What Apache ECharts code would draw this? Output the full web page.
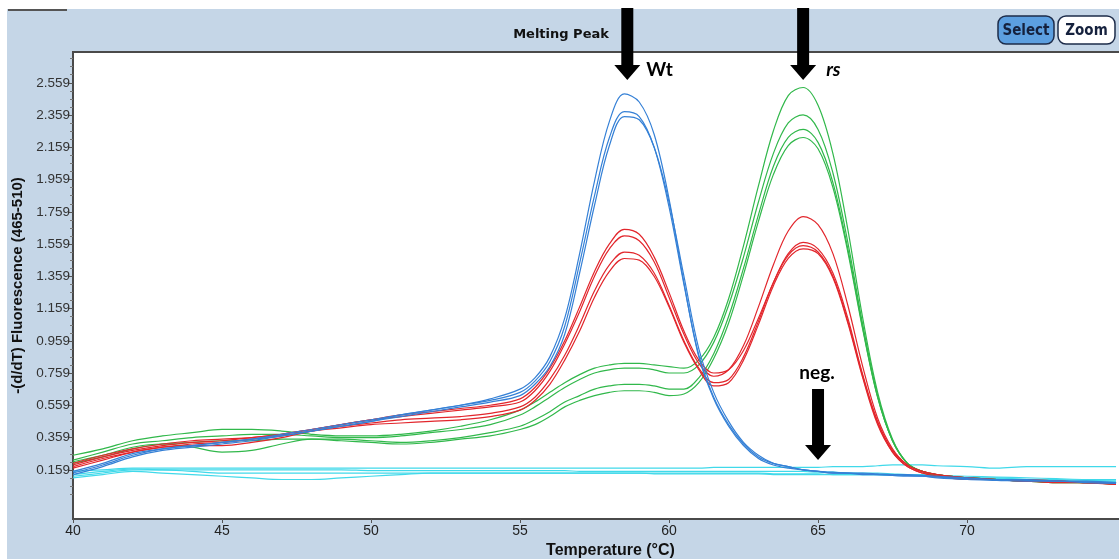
<!DOCTYPE html>
<html>
<head>
<meta charset="utf-8">
<script src="https://cdn.jsdelivr.net/npm/echarts@6/dist/echarts.min.js"></script>
<style>
html, body { margin: 0; padding: 0; background: #ffffff; }
#chart { width: 1119px; height: 559px; }
</style>
</head>
<body>
<div id="chart"></div>
<script>
// temperature grid (°C) shared by every curve
const temps = [40,41,42,43,44,45,46,47,48,49,50,51,52,53,54,55,
  55.5,56,56.5,57,57.5,58,58.5,59,59.5,60,60.5,61,61.5,62,62.5,63,63.5,64,64.5,65,65.5,66,66.5,67,67.5,68,68.5,
  69,70,71,72,73,74,75];

// Wt (blue)
const blue1 = [0.15,0.20,0.26,0.29,0.31,0.33,0.35,0.37,0.40,0.43,0.46,0.50,0.53,0.56,0.60,0.66,
  0.73,0.86,1.10,1.50,1.95,2.32,2.49,2.44,2.24,1.84,1.32,0.86,0.60,0.43,0.31,0.23,0.19,0.17,0.16,0.15,0.145,0.14,0.14,0.135,0.13,0.13,0.125,
  0.12,0.11,0.10,0.10,0.09,0.09,0.08];
const blue2 = [0.14,0.19,0.25,0.29,0.31,0.33,0.35,0.38,0.41,0.44,0.47,0.50,0.53,0.56,0.59,0.64,
  0.71,0.83,1.05,1.44,1.86,2.22,2.38,2.35,2.16,1.79,1.31,0.87,0.61,0.44,0.32,0.24,0.20,0.18,0.16,0.15,0.14,0.14,0.135,0.13,0.13,0.125,0.12,
  0.115,0.105,0.10,0.095,0.09,0.085,0.08];
const blue3 = [0.13,0.18,0.24,0.28,0.30,0.32,0.34,0.37,0.40,0.43,0.46,0.49,0.52,0.55,0.58,0.62,
  0.69,0.80,1.00,1.38,1.80,2.17,2.35,2.33,2.16,1.82,1.36,0.91,0.64,0.46,0.33,0.25,0.20,0.18,0.16,0.15,0.14,0.14,0.13,0.13,0.125,0.12,0.12,
  0.11,0.10,0.095,0.09,0.09,0.08,0.075];

// heterozygous (red)
const red1 = [0.20,0.25,0.29,0.32,0.34,0.35,0.36,0.38,0.41,0.44,0.47,0.50,0.52,0.54,0.56,0.60,
  0.67,0.79,0.96,1.17,1.39,1.56,1.65,1.62,1.48,1.26,1.02,0.84,0.76,0.78,0.90,1.10,1.32,1.50,1.57,1.53,1.38,1.10,0.75,0.46,0.28,0.19,0.15,
  0.13,0.11,0.10,0.10,0.09,0.08,0.08];
const red2 = [0.19,0.24,0.28,0.31,0.33,0.34,0.36,0.38,0.41,0.44,0.47,0.49,0.51,0.53,0.55,0.58,
  0.65,0.77,0.94,1.14,1.36,1.53,1.61,1.58,1.45,1.23,1.00,0.82,0.74,0.78,0.93,1.17,1.43,1.64,1.73,1.68,1.50,1.18,0.80,0.48,0.29,0.19,0.15,
  0.13,0.11,0.10,0.09,0.09,0.08,0.07];
const red3 = [0.18,0.23,0.27,0.30,0.31,0.31,0.33,0.36,0.40,0.43,0.45,0.47,0.48,0.49,0.51,0.55,
  0.61,0.72,0.87,1.06,1.27,1.43,1.51,1.49,1.38,1.18,0.96,0.79,0.70,0.72,0.86,1.08,1.32,1.49,1.55,1.51,1.36,1.08,0.74,0.45,0.27,0.18,0.14,
  0.12,0.11,0.10,0.09,0.09,0.08,0.08];
const red4 = [0.17,0.22,0.27,0.30,0.32,0.33,0.35,0.37,0.40,0.42,0.44,0.45,0.46,0.47,0.49,0.53,
  0.59,0.69,0.84,1.02,1.23,1.39,1.47,1.46,1.36,1.17,0.95,0.78,0.68,0.70,0.84,1.06,1.30,1.47,1.53,1.50,1.35,1.07,0.73,0.44,0.27,0.18,0.14,
  0.12,0.10,0.10,0.09,0.08,0.08,0.07];

// rs (green)
const green1 = [0.25,0.29,0.34,0.37,0.39,0.41,0.41,0.40,0.38,0.37,0.37,0.38,0.40,0.43,0.47,0.53,
  0.58,0.64,0.70,0.75,0.79,0.81,0.82,0.82,0.81,0.80,0.79,0.84,0.98,1.22,1.55,1.92,2.26,2.48,2.53,2.42,2.12,1.65,1.10,0.64,0.35,0.20,0.15,
  0.13,0.11,0.10,0.09,0.09,0.08,0.08];
const green2 = [0.22,0.27,0.32,0.34,0.36,0.37,0.38,0.38,0.37,0.36,0.36,0.37,0.39,0.41,0.44,0.50,
  0.55,0.61,0.67,0.72,0.76,0.78,0.79,0.79,0.78,0.76,0.76,0.81,0.95,1.18,1.48,1.82,2.12,2.31,2.36,2.27,2.00,1.57,1.06,0.62,0.34,0.20,0.15,
  0.13,0.11,0.10,0.09,0.08,0.08,0.07];
const green3 = [0.21,0.25,0.30,0.32,0.30,0.27,0.28,0.32,0.35,0.35,0.34,0.33,0.34,0.36,0.39,0.43,
  0.47,0.52,0.58,0.62,0.66,0.68,0.69,0.69,0.68,0.66,0.66,0.73,0.88,1.11,1.41,1.74,2.04,2.22,2.27,2.19,1.94,1.53,1.04,0.61,0.34,0.20,0.15,
  0.13,0.11,0.10,0.09,0.09,0.08,0.08];
const green4 = [0.20,0.24,0.29,0.32,0.33,0.34,0.34,0.35,0.35,0.34,0.33,0.32,0.33,0.35,0.37,0.41,
  0.44,0.49,0.55,0.59,0.62,0.64,0.65,0.65,0.64,0.62,0.63,0.70,0.85,1.07,1.37,1.70,1.99,2.17,2.22,2.15,1.91,1.51,1.03,0.61,0.34,0.20,0.15,
  0.12,0.11,0.10,0.09,0.08,0.08,0.07];

// negative controls (cyan)
const neg1 = [0.15,0.16,0.17,0.17,0.17,0.17,0.17,0.17,0.17,0.17,0.17,0.17,0.17,0.17,0.17,0.17,
  0.17,0.17,0.17,0.17,0.17,0.17,0.17,0.17,0.17,0.17,0.17,0.17,0.175,0.175,0.175,0.175,0.175,0.175,0.175,0.175,0.18,0.18,0.18,0.185,0.19,0.19,0.19,
  0.185,0.18,0.17,0.18,0.18,0.18,0.18];
const neg2 = [0.13,0.15,0.165,0.16,0.16,0.16,0.16,0.16,0.16,0.16,0.155,0.155,0.155,0.155,0.155,0.155,
  0.155,0.155,0.155,0.15,0.15,0.15,0.15,0.15,0.15,0.15,0.15,0.15,0.15,0.15,0.15,0.15,0.15,0.15,0.15,0.145,0.145,0.14,0.14,0.14,0.135,0.13,0.13,
  0.125,0.12,0.115,0.11,0.105,0.10,0.10];
const neg3 = [0.12,0.14,0.16,0.16,0.15,0.14,0.14,0.14,0.14,0.14,0.14,0.14,0.14,0.14,0.14,0.14,
  0.14,0.14,0.14,0.14,0.14,0.14,0.14,0.14,0.14,0.14,0.14,0.14,0.14,0.14,0.14,0.14,0.135,0.135,0.135,0.135,0.13,0.13,0.13,0.13,0.13,0.125,0.125,
  0.12,0.11,0.105,0.10,0.095,0.09,0.09];
const neg4 = [0.11,0.13,0.15,0.14,0.13,0.12,0.11,0.10,0.10,0.11,0.12,0.13,0.14,0.14,0.14,0.14,
  0.14,0.14,0.14,0.14,0.14,0.14,0.14,0.14,0.135,0.135,0.135,0.135,0.135,0.135,0.135,0.135,0.13,0.13,0.13,0.13,0.13,0.13,0.13,0.13,0.125,0.125,0.125,
  0.12,0.11,0.11,0.10,0.10,0.095,0.09];

// axis ticks
const yTicks = [0.159,0.359,0.559,0.759,0.959,1.159,1.359,1.559,1.759,1.959,2.159,2.359,2.559];
const xTicks = [40,45,50,55,60,65,70];

// minor y ticks, 4 per interval
const yMinor = [];
for (let i = -1; i < yTicks.length; i++) {
  for (let k = 1; k < 4; k++) {
    const v = 0.159 + i * 0.2 + k * 0.05;
    if (v > -0.14 && v < 2.74) yMinor.push(v);
  }
}

const BLUE = '#3580d6', RED = '#e2262c', GREEN = '#31b84b', CYAN = '#40d9ea';

function curve(name, values, color) {
  return {
    name: name,
    type: 'line',
    data: temps.map((t, i) => [t, values[i]]),
    smooth: 0.35,
    showSymbol: false,
    silent: true,
    lineStyle: { color: color, width: 1.2 }
  };
}

const chart = echarts.init(document.getElementById('chart'));

const narrow = '"Liberation Sans Narrow", "Liberation Sans", sans-serif';

chart.setOption({
  animation: false,
  backgroundColor: '#c5d6e7',
  grid: {
    show: true, left: 73, right: -3, top: 52, bottom: 40,
    outerBoundsMode: 'none', containLabel: false,
    backgroundColor: '#ffffff', borderColor: '#4a4a4a', borderWidth: 2
  },
  xAxis: {
    type: 'value', min: 40, max: 75.2,
    name: 'Temperature (°C)', nameLocation: 'middle', nameGap: 24,
    nameTextStyle: { fontFamily: narrow, fontWeight: 'bold', fontSize: 16, color: '#111', padding: [0, 0, 0, 26] },
    axisLine: { show: true, onZero: false, lineStyle: { color: '#4a4a4a', width: 2 } },
    axisTick: { show: true, customValues: xTicks, length: 4, lineStyle: { color: '#555' } },
    axisLabel: { customValues: xTicks, fontFamily: narrow, fontSize: 14, color: '#222', margin: 5 },
    splitLine: { show: false }
  },
  yAxis: [
    {
      type: 'value', min: -0.145, max: 2.75,
      name: '-(d/dT) Fluorescence (465-510)', nameLocation: 'middle', nameGap: 46,
      nameTextStyle: { fontFamily: 'Liberation Sans', fontWeight: 'bold', fontSize: 15, color: '#111' },
      axisLine: { show: true, onZero: false, lineStyle: { color: '#4a4a4a', width: 2 } },
      axisTick: { show: true, customValues: yTicks, length: 5, lineStyle: { color: '#555' } },
      axisLabel: { customValues: yTicks, formatter: v => v.toFixed(3), fontFamily: 'Liberation Sans', fontSize: 13.5, color: '#333', margin: 3 },
      splitLine: { show: false }
    },
    {
      type: 'value', min: -0.145, max: 2.75, position: 'left',
      axisLine: { show: false },
      axisTick: { show: true, customValues: yMinor, length: 3, lineStyle: { color: '#777' } },
      axisLabel: { show: false },
      splitLine: { show: false }
    }
  ],
  series: [
    curve('neg1', neg1, CYAN), curve('neg2', neg2, CYAN), curve('neg3', neg3, CYAN), curve('neg4', neg4, CYAN),
    curve('green1', green1, GREEN), curve('green2', green2, GREEN), curve('green3', green3, GREEN), curve('green4', green4, GREEN),
    curve('red1', red1, RED), curve('red2', red2, RED), curve('red3', red3, RED), curve('red4', red4, RED),
    curve('blue1', blue1, BLUE), curve('blue2', blue2, BLUE), curve('blue3', blue3, BLUE)
  ]
});

// down arrow polygon with tip at (x, yTip), shaft starting at yTop
function arrow(x, yTop, yTip) {
  const sw = 6, hw = 13, hh = 15;
  return {
    type: 'polygon', z: 100,
    shape: { points: [[x - sw, yTop], [x + sw, yTop], [x + sw, yTip - hh], [x + hw, yTip - hh], [x, yTip], [x - hw, yTip - hh], [x - sw, yTip - hh]] },
    style: { fill: '#000' }
  };
}

const wtTip = chart.convertToPixel({ gridIndex: 0 }, [58.6, 2.577]);
const rsTip = chart.convertToPixel({ gridIndex: 0 }, [64.5, 2.577]);
const negTip = chart.convertToPixel({ gridIndex: 0 }, [65.0, 0.221]);
const negTop = chart.convertToPixel({ gridIndex: 0 }, [65.0, 0.661]);

const labelFont = 'Lato, "Open Sans", sans-serif';

chart.setOption({
  graphic: [
    { type: 'rect', z: 50, shape: { x: 0, y: 0, width: 1119, height: 9 }, style: { fill: '#fff' } },
    { type: 'rect', z: 50, shape: { x: 0, y: 0, width: 7, height: 559 }, style: { fill: '#fff' } },
    { type: 'rect', z: 51, shape: { x: 8, y: 9, width: 59, height: 2 }, style: { fill: '#555' } },
    { type: 'text', z: 60, x: 561, y: 35,
      style: { text: 'Melting Peak', font: 'bold 13px "DejaVu Sans"', fill: '#111', align: 'center', verticalAlign: 'middle' } },
    { type: 'rect', z: 60, shape: { x: 998, y: 16, width: 56, height: 28, r: 8 },
      style: { fill: '#5c9fe0', stroke: '#1d2c4a', lineWidth: 1.5 } },
    { type: 'text', z: 61, x: 1026, y: 31,
      style: { text: 'Select', font: 'bold 15px "DejaVu Sans Condensed", "DejaVu Sans"', fill: '#15213d', align: 'center', verticalAlign: 'middle' } },
    { type: 'rect', z: 60, shape: { x: 1058, y: 16, width: 57, height: 28, r: 8 },
      style: { fill: '#ffffff', stroke: '#1d2c4a', lineWidth: 1.5 } },
    { type: 'text', z: 61, x: 1086.5, y: 31,
      style: { text: 'Zoom', font: 'bold 15px "DejaVu Sans Condensed", "DejaVu Sans"', fill: '#15213d', align: 'center', verticalAlign: 'middle' } },
    arrow(wtTip[0], 8, wtTip[1]),
    arrow(rsTip[0], 8, rsTip[1]),
    arrow(negTip[0], negTop[1], negTip[1]),
    { type: 'text', z: 100, x: wtTip[0] + 19, y: wtTip[1] - 10,
      style: { text: 'Wt', font: 'bold 19px ' + labelFont, fill: '#000', verticalAlign: 'middle' } },
    { type: 'text', z: 100, x: rsTip[0] + 23, y: rsTip[1] - 10,
      style: { text: 'rs', font: 'italic bold 19px ' + labelFont, fill: '#000', verticalAlign: 'middle' } },
    { type: 'text', z: 100, x: negTip[0] - 1, y: negTop[1] - 16,
      style: { text: 'neg.', font: 'bold 19px ' + labelFont, fill: '#000', align: 'center', verticalAlign: 'middle' } }
  ]
});
</script>
</body>
</html>
